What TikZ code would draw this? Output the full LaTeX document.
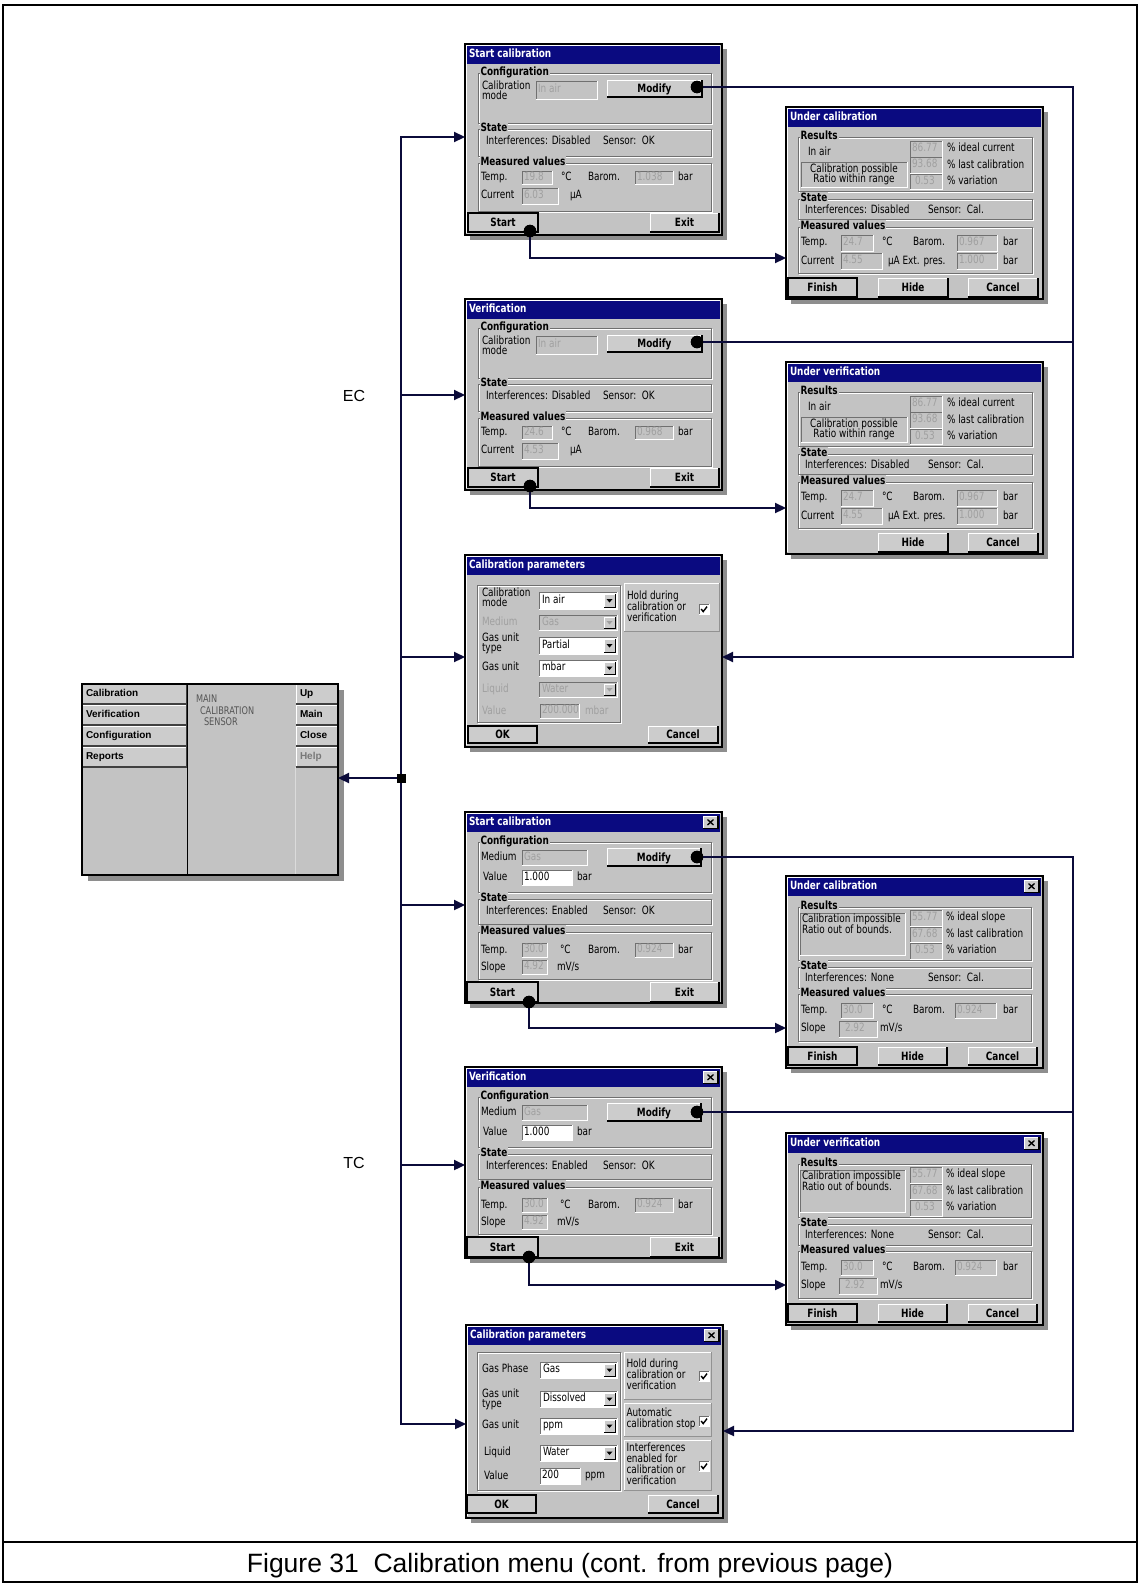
\documentclass[tikz,border=0pt]{standalone}
\usepackage{fontspec}
\setmainfont{Liberation Sans}
\newfontfamily\tfont[FakeStretch=0.78]{DejaVu Sans}
\usetikzlibrary{arrows.meta}
\definecolor{winbg}{HTML}{C3C3C3}
\definecolor{navy}{HTML}{0A0A80}
\definecolor{shadowc}{HTML}{8E8E8E}
\definecolor{dis}{HTML}{A0A0A0}
\definecolor{darkedge}{HTML}{707070}
\definecolor{connc}{HTML}{0B0B3A}
\definecolor{btnbg}{HTML}{CCCCCC}
\definecolor{menutxt}{HTML}{555555}

\newcommand\fb{\fontsize{11.4}{12}\tfont}
\newcommand\fbb{\fontsize{11.4}{12}\tfont\bfseries}

\tikzset{
  every node/.style={inner sep=0pt, outer sep=0pt},
  lbl/.style={anchor=mid west, font=\fb},
  dlbl/.style={lbl, text=dis},
  clbl/.style={anchor=mid, font=\fb},
  grplbl/.style={anchor=mid west, fill=winbg, inner xsep=1pt, inner ysep=1pt, font=\fbb},
  ttl/.style={anchor=mid west, text=white, font=\fbb},
  btn/.style={font=\fbb, text height=8pt, text depth=0pt},
  mbtn/.style={anchor=mid west, font=\fontsize{10}{12}\selectfont\bfseries},
  conn/.style={draw=connc, line width=2.2pt},
  arr/.style={conn, -{Triangle[length=11pt,width=10pt]}},
  jdot/.style={circle, fill=black, minimum size=12.5pt},
  winbox/.style={draw=black, line width=1.3pt, fill=winbg, anchor=north west},
}

\newcommand\Sunk[5]{%
  \fill[fill=#5] ({#1},{#2}) rectangle ({#3},{#4});
  \draw[darkedge, line width=0.9pt] ({#1},{#4}) -- ({#1},{#2}) -- ({#3},{#2});
  \draw[white, line width=0.9pt] ({#1},{#4}) -- ({#3},{#4}) -- ({#3},{#2});}
\newcommand\FldD[6]{\Sunk{#2}{#3}{#4}{#5}{winbg}\node[dlbl] (#1) at ({#2+2},{(#3+#5)/2}) {#6};}
\newcommand\FldW[6]{\Sunk{#2}{#3}{#4}{#5}{white}\node[lbl] (#1) at ({#2+2},{(#3+#5)/2}) {#6};}
\newcommand\Btn[7]{%
  \fill[btnbg] ({#2},{#3}) rectangle ({#4},{#5});
  \draw[white, line width=0.9pt] ({#2+0.8},{#5-0.8}) -- ({#2+0.8},{#3+0.8}) -- ({#4-0.8},{#3+0.8});
  \draw[black, line width=1.1pt] ({#2},{#5}) -- ({#4},{#5}) -- ({#4},{#3});
  \ifnum#7=1 \draw[black, line width=1.1pt] ({#2},{#3}) rectangle ({#4},{#5});\fi
  \node[btn] (#1) at ({(#2+#4)/2},{(#3+#5)/2}) {#6};}
\newcommand\Grp[6]{%
  \draw[white, line width=0.7pt] ({#2+1},{#3+1}) rectangle ({#4+1},{#5+1});
  \draw[darkedge, line width=0.8pt] ({#2},{#3}) rectangle ({#4},{#5});
  \node[grplbl] (#1) at ({#2+1.5},{#3}) {#6};}
\newcommand\Etch[4]{%
  \draw[white, line width=0.7pt] ({#1+1},{#2+1}) rectangle ({#3+1},{#4+1});
  \draw[darkedge, line width=0.8pt] ({#1},{#2}) rectangle ({#3},{#4});}
\newcommand\Raised[4]{%
  \fill[winbg!88!white] ({#1},{#2}) rectangle ({#3},{#4});
  \draw[white, line width=0.9pt] ({#1},{#4}) -- ({#1},{#2}) -- ({#3},{#2});
  \draw[winbg!75!black, line width=0.9pt] ({#1},{#4}) -- ({#3},{#4}) -- ({#3},{#2});}
\newcommand\Chk[2]{%
  \Sunk{#1}{#2}{#1+10}{#2+10}{white}
  \draw[black, line width=1.4pt] ({#1+2.2},{#2+5}) -- ({#1+4.2},{#2+7.6}) -- ({#1+8},{#2+2.6});}
\newcommand\Combo[7]{%
  \ifnum#7=1 \def\cbfill{white}\def\cbtxt{black}\else\def\cbfill{winbg}\def\cbtxt{dis}\fi
  \Sunk{#2}{#3}{#4}{#5}{\cbfill}
  \node[lbl, text=\cbtxt] (#1) at ({#2+3},{(#3+#5)/2}) {#6};
  \fill[btnbg] ({#4-13},{#3+2}) rectangle ({#4-2},{#5-2});
  \draw[white, line width=0.6pt] ({#4-13},{#5-2}) -- ({#4-13},{#3+2}) -- ({#4-2},{#3+2});
  \draw[black, line width=0.8pt] ({#4-13},{#5-2}) -- ({#4-2},{#5-2}) -- ({#4-2},{#3+2});
  \fill[fill=\cbtxt] ({#4-10.5},{(#3+#5)/2-1.5}) -- ({#4-4.5},{(#3+#5)/2-1.5}) -- ({#4-7.5},{(#3+#5)/2+2}) -- cycle;}
\newcommand\WinF[5]{%
  \fill[shadowc] (5,5) rectangle ({#3+5},{#4+5});
  \node[winbox, minimum width=#3pt, minimum height=#4pt] (#1) at (0,0) {};
  \draw[white, line width=0.8pt] (1.8,{#4-1.8}) -- (1.8,1.8) -- ({#3-1.8},1.8);
  \fill[navy] (1.6,1.6) rectangle ({#3-1.6},19.5);
  \node[ttl] (#1-ttl) at (4,10.6) {#2};
  \ifnum#5=1
    \Btn{#1-x}{#3-19}{4}{#3-4}{16.5}{}{0}
    \draw[black, line width=1.3pt] ({#3-14.5},7.5) -- ({#3-8.5},13) ({#3-14.5},13) -- ({#3-8.5},7.5);
  \fi}
\newcommand\MBtn[7]{%
  \fill[btnbg] ({#2},{#3}) rectangle ({#4},{#5});
  \draw[white, line width=0.9pt] ({#2+0.8},{#5-0.8}) -- ({#2+0.8},{#3+0.8}) -- ({#4-0.8},{#3+0.8});
  \draw[black!75, line width=1.2pt] ({#2},{#5}) -- ({#4},{#5}) -- ({#4},{#3});
  \node[mbtn, text=#7] (#1) at ({#2+4},{(#3+#5)/2}) {#6};}

\newcommand\CalEC[7]{%
\begin{scope}[shift={(#2,#3)}]
  \WinF{#1}{#4}{257}{191}{0}
  \Grp{#1-g1}{13}{29}{246}{79}{Configuration}
  \node[lbl] (#1-cm1) at (17,42.5) {Calibration};
  \node[lbl] (#1-cm2) at (17,53) {mode};
  \FldD{#1-f0}{71}{37}{132}{55}{In air}
  \Btn{#1-mod}{142}{36}{237}{53}{Modify}{0}
  \Grp{#1-g2}{13}{85}{246}{112}{State}
  \node[lbl] (#1-if) at (21,98) {Interferences: Disabled};
  \node[lbl] (#1-se) at (138,98) {Sensor:\ \ OK};
  \Grp{#1-g3}{13}{119}{246}{167}{Measured values}
  \node[lbl] (#1-tl) at (16,133.5) {Temp.};
  \FldD{#1-ft}{57}{127}{87}{140}{#5}
  \node[lbl] (#1-tu) at (96,133.5) {°C};
  \node[lbl] (#1-bl) at (123,133.5) {Barom.};
  \FldD{#1-fb}{170}{127}{208}{140}{#6}
  \node[lbl] (#1-bu) at (213,133.5) {bar};
  \node[lbl] (#1-cl) at (16,152) {Current};
  \FldD{#1-fc}{57}{144}{93}{160}{#7}
  \node[lbl] (#1-cu) at (105,152) {µA};
  \Btn{#1-start}{3}{169}{73}{188}{Start}{1}
  \Btn{#1-exit}{185}{169}{254}{188}{Exit}{0}
  \node[jdot] (#1-md) at (232,43) {};
  \node[jdot] (#1-sd) at (65,187) {};
\end{scope}}

\newcommand\CalTC[4]{%
\begin{scope}[shift={(#2,#3)}]
  \WinF{#1}{#4}{257}{191}{1}
  \Grp{#1-g1}{13}{30}{246}{80}{Configuration}
  \node[lbl] (#1-ml) at (16,46) {Medium};
  \FldD{#1-fm}{57}{38}{122}{53}{Gas}
  \node[lbl] (#1-vl) at (18,66) {Value};
  \FldW{#1-fv}{57}{58}{107}{73}{1.000}
  \node[lbl] (#1-vu) at (112,66) {bar};
  \Btn{#1-mod}{142}{36}{236}{54}{Modify}{0}
  \Grp{#1-g2}{13}{87}{246}{112}{State}
  \node[lbl] (#1-if) at (21,100) {Interferences: Enabled};
  \node[lbl] (#1-se) at (138,100) {Sensor:\ \ OK};
  \Grp{#1-g3}{13}{120}{246}{167}{Measured values}
  \node[lbl] (#1-tl) at (16,138.5) {Temp.};
  \FldD{#1-ft}{57}{131}{82}{145}{30.0}
  \node[lbl] (#1-tu) at (95,138.5) {°C};
  \node[lbl] (#1-bl) at (123,138.5) {Barom.};
  \FldD{#1-fb}{170}{131}{208}{145}{0.924}
  \node[lbl] (#1-bu) at (213,138.5) {bar};
  \node[lbl] (#1-sl) at (16,155.5) {Slope};
  \FldD{#1-fs}{57}{148}{82}{162}{4.92}
  \node[lbl] (#1-su) at (92,155.5) {mV/s};
  \Btn{#1-start}{2}{170}{73}{190}{Start}{1}
  \Btn{#1-exit}{185}{170}{254}{190}{Exit}{0}
  \node[jdot] (#1-md) at (232,45) {};
  \node[jdot] (#1-sd) at (64,190) {};
\end{scope}}

\newcommand\UnderEC[5]{%
\begin{scope}[shift={(#2,#3)}]
  \WinF{#1}{#4}{257}{192}{0}
  \Grp{#1-g1}{12}{30}{246}{84}{Results}
  \node[lbl] (#1-ia) at (22,46) {In air};
  \Sunk{15}{55}{121}{80}{winbg}
  \node[clbl] (#1-p1) at (68,63) {Calibration possible};
  \node[clbl] (#1-p2) at (68,73) {Ratio within range};
  \FldD{#1-r1}{124}{34}{156}{50}{86.77}
  \FldD{#1-r2}{124}{50.5}{156}{66}{93.68}
  \FldD{#1-r3}{124}{67}{156}{82.5}{\hspace{3pt}0.53}
  \node[lbl] (#1-q1) at (161,42) {\% ideal current};
  \node[lbl] (#1-q2) at (161,58.5) {\% last calibration};
  \node[lbl] (#1-q3) at (161,75) {\% variation};
  \Grp{#1-g2}{12}{92}{246}{112}{State}
  \node[lbl] (#1-if) at (19,104) {Interferences: Disabled};
  \node[lbl] (#1-se) at (142,104) {Sensor:\ \ Cal.};
  \Grp{#1-g3}{12}{120}{246}{166}{Measured values}
  \node[lbl] (#1-tl) at (15,136) {Temp.};
  \FldD{#1-ft}{55}{128}{87}{144}{24.7}
  \node[lbl] (#1-tu) at (96,136) {°C};
  \node[lbl] (#1-bl) at (127,136) {Barom.};
  \FldD{#1-fb}{171}{128}{211}{144}{0.967}
  \node[lbl] (#1-bu) at (217,136) {bar};
  \node[lbl] (#1-cl) at (15,155) {Current};
  \FldD{#1-fc}{55}{146}{96}{162}{4.55}
  \node[lbl] (#1-cu) at (102,155) {µA Ext. pres.};
  \FldD{#1-fe}{171}{146}{211}{162}{1.000}
  \node[lbl] (#1-eu) at (217,155) {bar};
  \ifnum#5=1 \Btn{#1-fin}{2}{171}{71}{190}{Finish}{1}\fi
  \Btn{#1-hide}{92}{171}{162}{190}{Hide}{0}
  \Btn{#1-cancel}{182}{171}{252}{190}{Cancel}{0}
\end{scope}}

\newcommand\UnderTC[4]{%
\begin{scope}[shift={(#2,#3)}]
  \WinF{#1}{#4}{257}{192}{1}
  \Grp{#1-g1}{12}{31}{245}{84}{Results}
  \Sunk{14}{37}{119}{79}{winbg}
  \node[lbl] (#1-p1) at (16,44) {Calibration impossible};
  \node[lbl] (#1-p2) at (16,55) {Ratio out of bounds.};
  \FldD{#1-r1}{124}{34}{156}{50}{55.77}
  \FldD{#1-r2}{124}{51}{156}{66}{67.68}
  \FldD{#1-r3}{124}{67}{156}{83}{\hspace{3pt}0.53}
  \node[lbl] (#1-q1) at (160,42) {\% ideal slope};
  \node[lbl] (#1-q2) at (160,58.5) {\% last calibration};
  \node[lbl] (#1-q3) at (160,75) {\% variation};
  \Grp{#1-g2}{12}{91}{245}{112}{State}
  \node[lbl] (#1-if) at (19,103) {Interferences: None};
  \node[lbl] (#1-se) at (142,103) {Sensor:\ \ Cal.};
  \Grp{#1-g3}{12}{118}{245}{165}{Measured values}
  \node[lbl] (#1-tl) at (15,135) {Temp.};
  \FldD{#1-ft}{55}{127}{87}{142}{30.0}
  \node[lbl] (#1-tu) at (96,135) {°C};
  \node[lbl] (#1-bl) at (127,135) {Barom.};
  \FldD{#1-fb}{169}{127}{210}{142}{0.924}
  \node[lbl] (#1-bu) at (217,135) {bar};
  \node[lbl] (#1-sl) at (15,152.5) {Slope};
  \FldD{#1-fs}{53}{145}{91}{161}{\hspace{4pt}2.92}
  \node[lbl] (#1-su) at (94,152.5) {mV/s};
  \Btn{#1-fin}{2}{171}{71}{189}{Finish}{1}
  \Btn{#1-hide}{92}{171}{161}{189}{Hide}{0}
  \Btn{#1-cancel}{182}{171}{251}{189}{Cancel}{0}
\end{scope}}

\begin{document}
\begin{tikzpicture}[x=1pt,y=-1pt]
\useasboundingbox (0,0) rectangle (1140,1585);
\fill[white] (0,0) rectangle (1140,1585);
\node[draw=black, line width=1.5pt, minimum width=1134pt, minimum height=1577pt, anchor=north west] (frame) at (3,5) {};
\coordinate (sep) at (0,1542);
\draw[black, line width=1.5pt] (frame.west |- sep) -- (frame.east |- sep);
\node[font=\fontsize{26.5}{30}\selectfont] (cap) at (570,1566) {Figure 31\ \ Calibration menu (cont. from previous page)};

% ---------- EC windows
\CalEC{w1}{465}{44}{Start calibration}{19.8}{1.038}{6.03}
\UnderEC{w2}{786}{107}{Under calibration}{1}
\CalEC{w3}{465}{299}{Verification}{24.6}{0.968}{4.53}
\UnderEC{w4}{786}{362}{Under verification}{0}

\begin{scope}[shift={(465,555)}]
  \WinF{w5}{Calibration parameters}{257}{192}{0}
  \Etch{12}{30}{155}{167}
  \Raised{159}{28}{254}{76}
  \node[lbl] (w5-h1) at (162,42) {Hold during};
  \node[lbl] (w5-h2) at (162,53) {calibration or};
  \node[lbl] (w5-h3) at (162,64) {verification};
  \Chk{234}{49}
  \node[lbl] (w5-l1a) at (17,38.5) {Calibration};
  \node[lbl] (w5-l1b) at (17,49) {mode};
  \Combo{w5-c1}{74}{37}{152}{54}{In air}{1}
  \node[dlbl] (w5-l2) at (17,67.5) {Medium};
  \Combo{w5-c2}{74}{60}{152}{75}{Gas}{0}
  \node[lbl] (w5-l3a) at (17,83.5) {Gas unit};
  \node[lbl] (w5-l3b) at (17,94) {type};
  \Combo{w5-c3}{74}{82}{152}{99}{Partial}{1}
  \node[lbl] (w5-l4) at (17,113) {Gas unit};
  \Combo{w5-c4}{74}{105}{152}{121}{mbar}{1}
  \node[dlbl] (w5-l5) at (17,134.5) {Liquid};
  \Combo{w5-c5}{74}{127}{152}{142}{Water}{0}
  \node[dlbl] (w5-l6) at (17,156.5) {Value};
  \FldD{w5-f6}{75}{149}{114}{163}{200.000}
  \node[dlbl] (w5-l6u) at (120,156.5) {mbar};
  \Btn{w5-ok}{3}{171}{72}{188}{OK}{1}
  \Btn{w5-cancel}{183}{171}{253}{188}{Cancel}{0}
\end{scope}

% ---------- TC windows
\CalTC{w6}{465}{812}{Start calibration}
\UnderTC{w7}{786}{876}{Under calibration}
\CalTC{w8}{465}{1067}{Verification}
\UnderTC{w9}{786}{1133}{Under verification}

\begin{scope}[shift={(466,1325)}]
  \WinF{w10}{Calibration parameters}{257}{193}{1}
  \Etch{11}{27}{154}{165}
  \node[lbl] (w10-l1) at (16,44.5) {Gas Phase};
  \Combo{w10-c1}{74}{37}{151}{53}{Gas}{1}
  \node[lbl] (w10-l2a) at (16,69.5) {Gas unit};
  \node[lbl] (w10-l2b) at (16,80) {type};
  \Combo{w10-c2}{74}{66}{151}{82}{Dissolved}{1}
  \node[lbl] (w10-l3) at (16,101) {Gas unit};
  \Combo{w10-c3}{74}{93}{151}{109}{ppm}{1}
  \node[lbl] (w10-l4) at (18,127.5) {Liquid};
  \Combo{w10-c4}{74}{120}{151}{136}{Water}{1}
  \node[lbl] (w10-l5) at (18,152) {Value};
  \FldW{w10-f5}{74}{143}{114}{159}{200}
  \node[lbl] (w10-l5u) at (119,151) {ppm};
  \Raised{158}{27}{245}{74}
  \node[lbl] (w10-h1) at (160.5,40) {Hold during};
  \node[lbl] (w10-h2) at (160.5,51) {calibration or};
  \node[lbl] (w10-h3) at (160.5,62) {verification};
  \Chk{233}{46}
  \Raised{158}{78}{245}{111}
  \node[lbl] (w10-a1) at (160.5,89) {Automatic};
  \node[lbl] (w10-a2) at (160.5,100) {calibration stop};
  \Chk{233}{91}
  \Raised{158}{115}{245}{165}
  \node[lbl] (w10-i1) at (160.5,123.5) {Interferences};
  \node[lbl] (w10-i2) at (160.5,134.5) {enabled for};
  \node[lbl] (w10-i3) at (160.5,145.5) {calibration or};
  \node[lbl] (w10-i4) at (160.5,156.5) {verification};
  \Chk{233}{136}
  \Btn{w10-ok}{1}{170}{70}{188}{OK}{1}
  \Btn{w10-cancel}{182}{170}{252}{188}{Cancel}{0}
\end{scope}

% ---------- main menu
\begin{scope}[shift={(82,684)}]
  \fill[shadowc] (6,6) rectangle (262,197);
  \node[winbox, minimum width=256pt, minimum height=191pt] (mm) at (0,0) {};
  \MBtn{mm-b1}{0}{0}{105}{20}{Calibration}{black}
  \MBtn{mm-b2}{0}{21}{105}{41}{Verification}{black}
  \MBtn{mm-b3}{0}{42}{105}{62}{Configuration}{black}
  \MBtn{mm-b4}{0}{63}{105}{83}{Reports}{black}
  \MBtn{mm-b5}{214}{0}{256}{20}{Up}{black}
  \MBtn{mm-b6}{214}{21}{256}{41}{Main}{black}
  \MBtn{mm-b7}{214}{42}{256}{62}{Close}{black}
  \MBtn{mm-b8}{214}{63}{256}{83}{Help}{dis!75!black}
  \draw[black, line width=1pt] (105,0) -- (105,191);
  \draw[winbg!60!white, line width=1pt] (213,83) -- (213,191);
  \node[anchor=mid west, font=\fontsize{10.5}{12}\tfont, text=menutxt] (mm-t1) at (114,16) {MAIN};
  \node[anchor=mid west, font=\fontsize{10.5}{12}\tfont, text=menutxt] (mm-t2) at (118,27.5) {CALIBRATION};
  \node[anchor=mid west, font=\fontsize{10.5}{12}\tfont, text=menutxt] (mm-t3) at (122,39) {SENSOR};
  \draw[black, line width=1.3pt] (0,0) rectangle (256,191);
\end{scope}

% ---------- connectors
\coordinate (b1) at (401,137);
\coordinate (b2) at (401,395);
\coordinate (b3) at (401,657);
\coordinate (b4) at (401,905);
\coordinate (b5) at (401,1165);
\coordinate (b6) at (401,1424);
\draw[conn, line cap=rect] (b1) -- (b6);
\node[fill=black, minimum size=9pt] (jn) at (401,778) {};
\draw[arr] (jn) -- (jn -| mm.east);
\draw[arr] (b1) -- (b1 -| w1.west);
\draw[arr] (b2) -- (b2 -| w3.west);
\draw[arr] (b3) -- (b3 -| w5.west);
\draw[arr] (b4) -- (b4 -| w6.west);
\draw[arr] (b5) -- (b5 -| w8.west);
\draw[arr] (b6) -- (b6 -| w10.west);
\node[font=\fontsize{16}{18}\selectfont] (ec) at (354,396) {EC};
\node[font=\fontsize{16}{18}\selectfont] (tc) at (354,1163) {TC};

\coordinate (rx) at (1073,0);
\coordinate (r3) at (0,657);
\coordinate (r6) at (0,1431);
\draw[arr] (w1-md.center) -- (w1-md.center -| rx) -- (rx |- r3) -- (r3 -| w5.east);
\draw[conn] (w3-md.center) -- (w3-md.center -| rx);
\draw[arr] (w6-md.center) -- (w6-md.center -| rx) -- (rx |- r6) -- (r6 -| w10.east);
\draw[conn] (w8-md.center) -- (w8-md.center -| rx);

\coordinate (s1) at (0,258);
\coordinate (s2) at (0,508);
\coordinate (s3) at (0,1028);
\coordinate (s4) at (0,1285);
\draw[arr] (w1-sd.center) |- (w2.west |- s1);
\draw[arr] (w3-sd.center) |- (w4.west |- s2);
\draw[arr] (w6-sd.center) |- (w7.west |- s3);
\draw[arr] (w8-sd.center) |- (w9.west |- s4);

\foreach \d in {w1-md,w1-sd,w3-md,w3-sd,w6-md,w6-sd,w8-md,w8-sd}
  \fill[black] (\d.center) circle (6.2pt);
\end{tikzpicture}
\end{document}
